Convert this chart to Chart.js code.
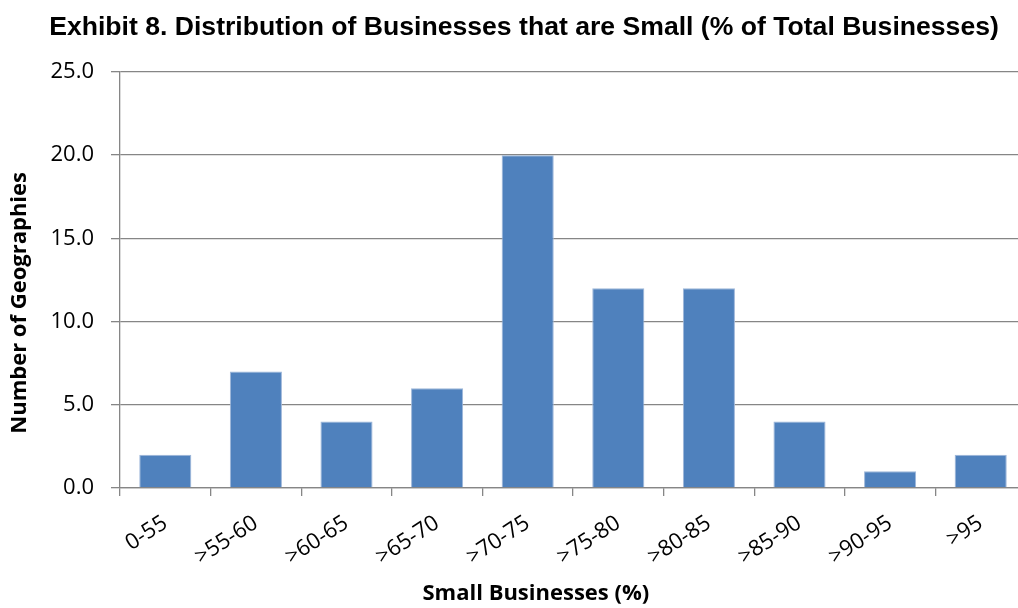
<!DOCTYPE html>
<html>
<head>
<meta charset="utf-8">
<script src="https://cdn.jsdelivr.net/npm/chart.js@4.4.0/dist/chart.umd.min.js"></script>
<style>
  html, body { margin: 0; padding: 0; background: #fff; overflow: hidden; }
  #wrap { width: 1048px; height: 608px; }
</style>
</head>
<body>
<div id="wrap"><canvas id="barChart" width="1048" height="608"></canvas></div>
<script>
const categories = ['0-55', '>55-60', '>60-65', '>65-70', '>70-75', '>75-80', '>80-85', '>85-90', '>90-95', '>95'];
const geographies = [2, 7, 4, 6, 20, 12, 12, 4, 1, 2];
const yTicks = [0, 5, 10, 15, 20, 25];

const gridGrey = '#868686';
const labelFont = "'Open Sans', 'Noto Sans', sans-serif";

// axis captions sit a bit off-centre in the original, so draw them by hand
const axisCaptions = {
  id: 'axisCaptions',
  afterDraw(chart) {
    const { ctx, chartArea } = chart;
    ctx.save();
    ctx.fillStyle = '#000';
    ctx.font = "bold 22px " + labelFont;
    ctx.textAlign = 'center';
    ctx.textBaseline = 'middle';
    // x caption
    ctx.fillText('Small Businesses (%)', chartArea.left + (chartArea.right - chartArea.left) * 0.459, 594);
    // y caption
    ctx.translate(20, chartArea.top + (chartArea.bottom - chartArea.top) * 0.555);
    ctx.rotate(-Math.PI / 2);
    ctx.fillText('Number of Geographies', 0, 0);
    ctx.restore();
  }
};

const ctx = document.getElementById('barChart').getContext('2d');
new Chart(ctx, {
  type: 'bar',
  data: {
    labels: categories,
    datasets: [{
      label: 'Number of Geographies',
      data: geographies,
      backgroundColor: '#4F81BD',
      borderColor: '#9DB6D9',
      borderWidth: 1,
      categoryPercentage: 1,
      barPercentage: 0.575
    }]
  },
  options: {
    responsive: false,
    animation: false,
    layout: { padding: { left: 22, right: 22, top: 0, bottom: 0 } },
    plugins: {
      legend: { display: false },
      tooltip: { enabled: false },
      title: {
        display: true,
        text: 'Exhibit 8. Distribution of Businesses that are Small (% of Total Businesses)',
        color: '#000',
        font: { family: "'Liberation Sans', Arial, sans-serif", size: 26.6, weight: 'bold' },
        padding: { top: 12, bottom: 28 }
      }
    },
    scales: {
      y: {
        min: 0,
        max: 25,
        afterBuildTicks: (scale) => { scale.ticks = yTicks.map(v => ({ value: v })); },
        ticks: {
          color: '#000',
          font: { family: labelFont, size: 22 },
          padding: 17,
          callback: (v) => Number(v).toFixed(1)
        },
        grid: { color: gridGrey, lineWidth: 1.3, tickLength: 9 },
        border: { color: gridGrey, width: 1.3 },
        afterFit: (scale) => { scale.width = 98; }
      },
      x: {
        ticks: {
          color: '#000',
          font: { family: labelFont, size: 22 },
          minRotation: 33,
          maxRotation: 33,
          padding: 14
        },
        grid: { offset: true, drawOnChartArea: false, color: gridGrey, lineWidth: 1.3, tickLength: 8 },
        border: { color: gridGrey, width: 1.3 },
        afterFit: (scale) => { scale.height = 120; }
      }
    }
  },
  plugins: [axisCaptions]
});
</script>
</body>
</html>
